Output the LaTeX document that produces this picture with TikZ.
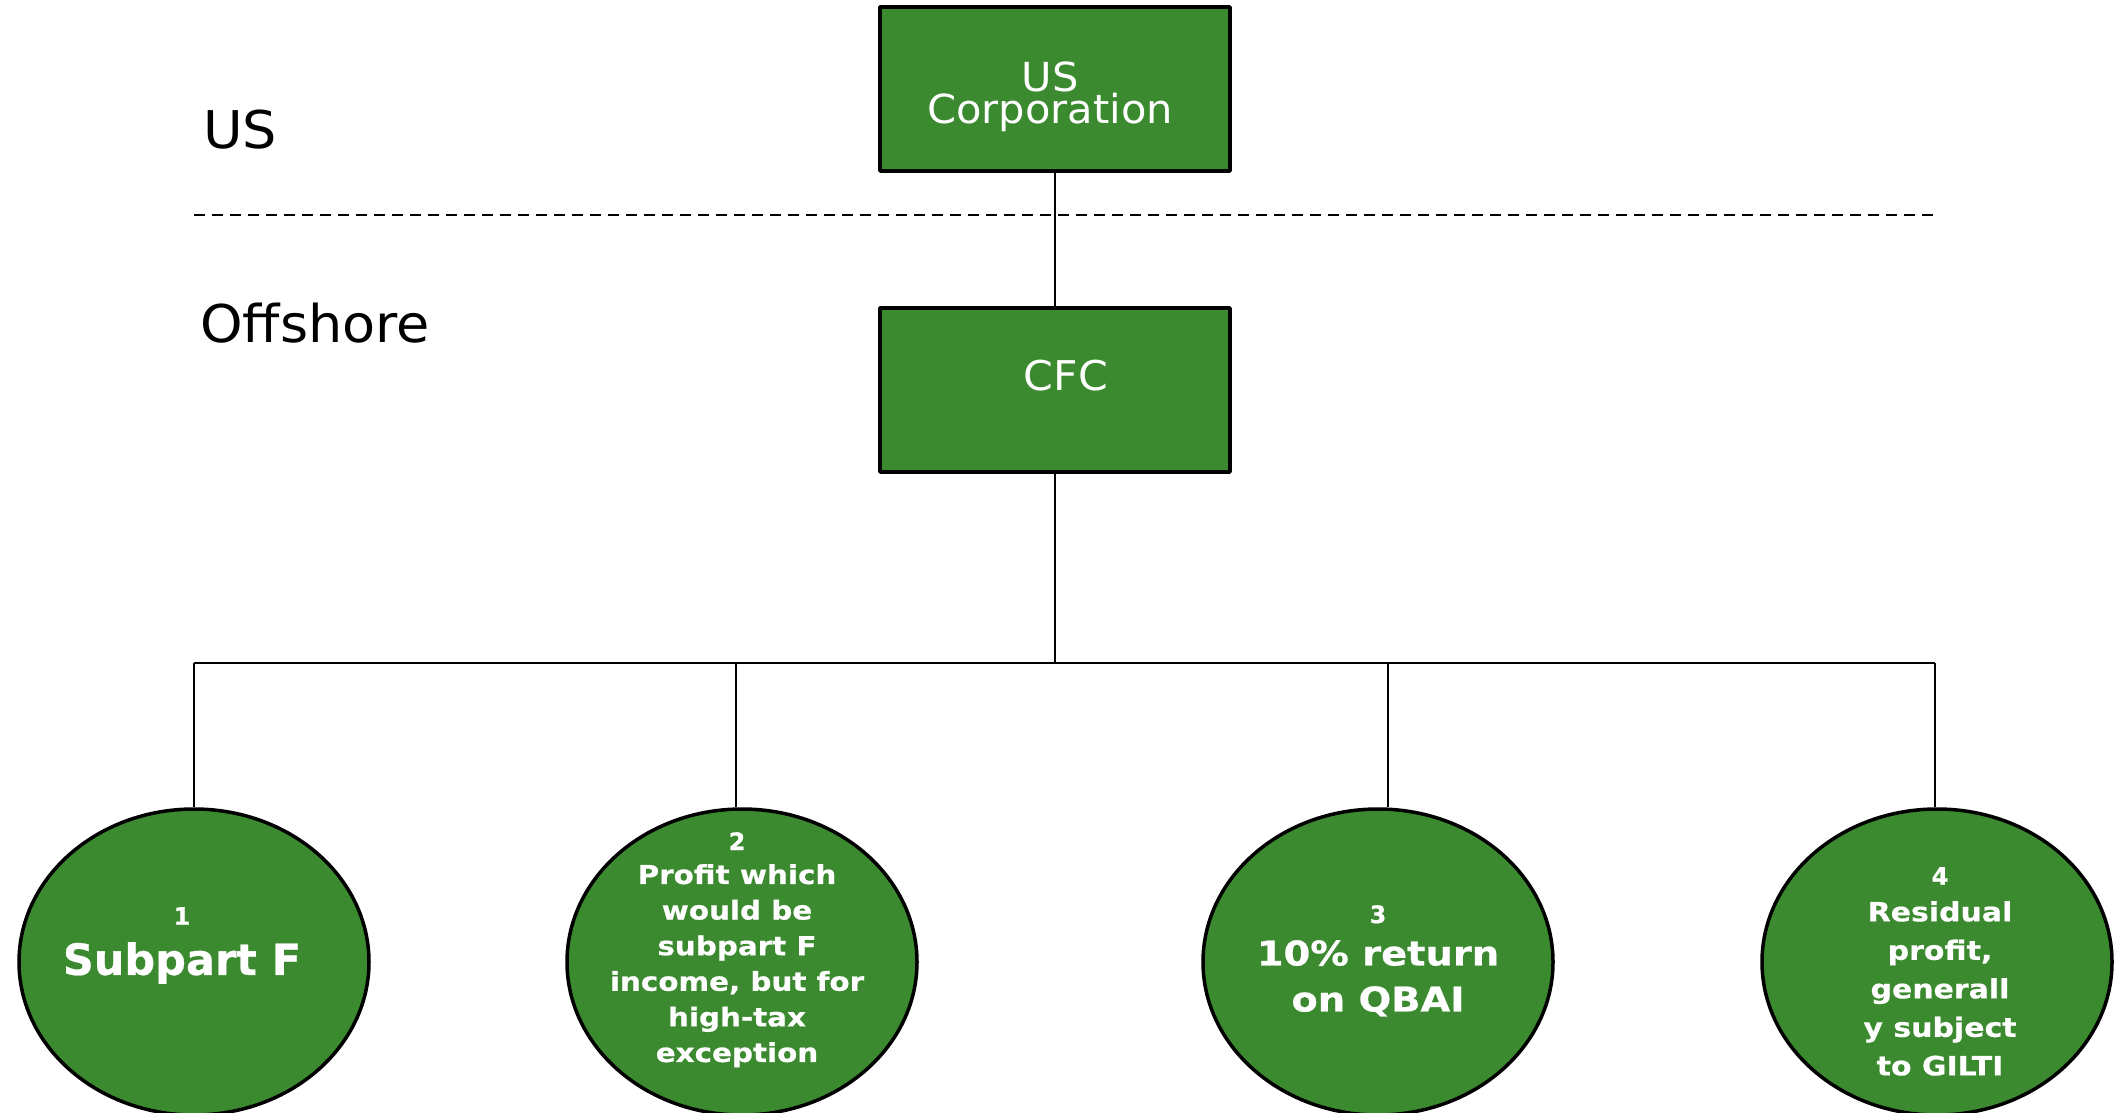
\documentclass[tikz,border=0pt]{standalone}
\usepackage{fontspec}
\setmainfont{DejaVu Sans}
\newfontfamily\wideregular{DejaVu Sans}[FakeStretch=1.04]
\newfontfamily\widebold{DejaVu Sans}[FakeStretch=1.13, FakeBold=0.6]
\newfontfamily\heavybold{DejaVu Sans}[FakeBold=0.6]
\usetikzlibrary{shapes.geometric}
\definecolor{boxgreen}{RGB}{59,138,47}
\tikzset{
  entity/.style={draw=black, line width=3.5pt, line join=round, fill=boxgreen,
    minimum width=350pt, minimum height=164pt, inner sep=0pt},
  share/.style={ellipse, draw=black, line width=3.5pt, fill=boxgreen,
    minimum width=350pt, minimum height=306pt, inner sep=0pt},
  link/.style={line width=1.6pt},
  border/.style={line width=1.6pt, dash pattern=on 11pt off 7pt},
  boxtext/.style={text=white, inner sep=0pt, align=center},
  numtext/.style={text=white, inner sep=0pt, font=\heavybold\bfseries\fontsize{24}{28}\selectfont},
  bodytext/.style={text=white, inner sep=0pt, align=center},
  region/.style={inner sep=0pt, font=\wideregular\fontsize{52}{60}\selectfont}
}
\begin{document}
\begin{tikzpicture}[x=1pt, y=-1pt]
  \useasboundingbox (0,0) rectangle (2125,1112);

  % jurisdiction labels and the border between them
  \node[region, anchor=base west] (lblus) at (203,148) {US};
  \node[region, anchor=base west] (lbloff) at (200,342) {Offshore};
  \coordinate (bl) at (194,215);
  \coordinate (br) at (1935,215);
  \draw[border] (bl) -- (br);

  % entities
  \node[entity] (uscorp) at (1055,89) {};
  \node[boxtext, anchor=north, font=\wideregular\fontsize{40}{30}\selectfont] (uscorptxt) at (1050,62) {US\\Corporation};
  \node[entity] (cfc) at (1055,390) {};
  \node[boxtext, anchor=base, font=\wideregular\fontsize{41}{48}\selectfont] (cfctxt) at (1066,390) {CFC};

  % income buckets
  \node[share] (e1) at (194,962) {};
  \node[share] (e2) at (742,962) {};
  \node[share] (e3) at (1378,962) {};
  \node[share] (e4) at (1937,962) {};

  \node[numtext, anchor=north] (n1) at (182,907) {1};
  \node[bodytext, anchor=north, font=\heavybold\bfseries\fontsize{43}{48}\selectfont] (t1) at (182,942) {Subpart F};

  \node[numtext, anchor=north] (n2) at (737,832) {2};
  \node[bodytext, anchor=north, font=\widebold\bfseries\fontsize{26}{35.6}\selectfont] (t2) at (737,864)
    {Profit which\\would be\\subpart F\\income, but for\\high-tax\\exception};

  \node[numtext, anchor=north] (n3) at (1378,905) {3};
  \node[bodytext, anchor=north, font=\widebold\bfseries\fontsize{34}{46}\selectfont] (t3) at (1378,940)
    {10\% return\\on QBAI};

  \node[numtext, anchor=north] (n4) at (1940,867) {4};
  \node[bodytext, anchor=north, font=\widebold\bfseries\fontsize{26.5}{38.5}\selectfont] (t4) at (1940,901)
    {Residual\\profit,\\generall\\y subject\\to GILTI};

  % ownership connectors
  \draw[link] (uscorp.south) -- (cfc.north);
  \coordinate (hub) at (1055,663);
  \coordinate (j1) at (194,663);
  \coordinate (j2) at (736,663);
  \coordinate (j3) at (1388,663);
  \coordinate (j4) at (1935,663);
  \draw[link] (cfc.south) -- (hub);
  \draw[link] (j1) -- (j4);
  \draw[link] (j1) -- (j1 |- e1.north);
  \draw[link] (j2) -- (j2 |- e2.north);
  \draw[link] (j3) -- (j3 |- e3.north);
  \draw[link] (j4) -- (j4 |- e4.north);
\end{tikzpicture}
\end{document}
